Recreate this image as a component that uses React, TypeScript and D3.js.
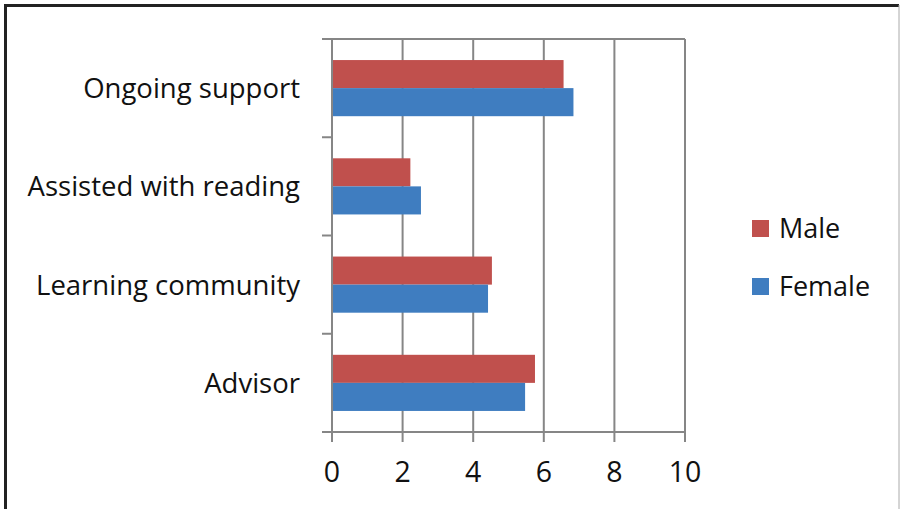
import * as d3 from "d3";

const categories = ["Ongoing support", "Assisted with reading", "Learning community", "Advisor"];
const series = ["Male", "Female"];
const maleValues = [6.56, 2.22, 4.53, 5.75];
const femaleValues = [6.84, 2.52, 4.42, 5.47];
const xTicks = [0, 2, 4, 6, 8, 10];

const COLORS: Record<string, string> = { Male: "#C0504D", Female: "#3F7DC0" };
const FONT = "'Open Sans', 'Noto Sans', sans-serif";
const GRID = "#868686";

const W = 901;
const H = 509;
const left = 332;
const right = 685;
const top = 39;
const bottom = 432;

export default function App() {
  const x = d3.scaleLinear().domain([0, 10]).range([left, right]);
  const y = d3.scaleBand<string>().domain(categories).range([top, bottom]).paddingInner(0).paddingOuter(0);
  const inner = d3.scaleBand<string>().domain(series).range([0, y.bandwidth()]).paddingInner(0).paddingOuter(0.75);

  const rows = categories.map((c, i) => ({ cat: c, Male: maleValues[i], Female: femaleValues[i] }));
  const catTicks = d3.range(categories.length + 1).map((i) => top + i * y.bandwidth());

  return (
    <svg
      width={W}
      height={H}
      style={{ position: "fixed", left: 0, top: 0, background: "#fff" }}
      fontFamily={FONT}
    >
      {/* outer frame */}
      <line x1={5.5} y1={5} x2={5.5} y2={H} stroke="#222" strokeWidth={3} />
      <line x1={4} y1={5.5} x2={W - 2} y2={5.5} stroke="#222" strokeWidth={3} />
      <line x1={W - 2} y1={5} x2={W - 2} y2={H} stroke="#aaa" strokeWidth={1} />

      {/* gridlines + plot frame */}
      {xTicks.slice(1).map((t) => (
        <line key={t} x1={x(t)} x2={x(t)} y1={top} y2={bottom} stroke={GRID} strokeWidth={2} />
      ))}
      <line x1={left} x2={right} y1={top} y2={top} stroke={GRID} strokeWidth={2} />

      {/* bars */}
      {rows.map((r) => (
        <g key={r.cat} transform={`translate(0,${y(r.cat)})`}>
          {series.map((s) => (
            <rect
              key={s}
              x={x(0)}
              y={inner(s)}
              width={x((r as any)[s]) - x(0)}
              height={inner.bandwidth()}
              fill={COLORS[s]}
            />
          ))}
        </g>
      ))}

      {/* axes */}
      <line x1={left} x2={left} y1={top - 1} y2={bottom + 10} stroke={GRID} strokeWidth={2} />
      <line x1={left - 10} x2={right + 1} y1={bottom} y2={bottom} stroke={GRID} strokeWidth={2} />
      {catTicks.map((ty, i) => (
        <line key={i} x1={left - 10} x2={left} y1={ty} y2={ty} stroke={GRID} strokeWidth={2} />
      ))}
      {xTicks.map((t) => (
        <g key={t}>
          <line x1={x(t)} x2={x(t)} y1={bottom} y2={bottom + 10} stroke={GRID} strokeWidth={2} />
          <text x={x(t)} y={482} textAnchor="middle" fontSize={28.5} fill="#111">
            {t}
          </text>
        </g>
      ))}

      {/* category labels */}
      {categories.map((c) => (
        <text
          key={c}
          x={300}
          y={(y(c) ?? 0) + y.bandwidth() / 2 + 10}
          textAnchor="end"
          fontSize={27.5}
          fill="#111"
        >
          {c}
        </text>
      ))}

      {/* legend */}
      {series.map((s, i) => (
        <g key={s} transform={`translate(752,${220 + i * 58})`}>
          <rect x={0} y={0} width={17} height={17} fill={COLORS[s]} />
          <text x={27} y={18} fontSize={27} fill="#111">
            {s}
          </text>
        </g>
      ))}
    </svg>
  );
}
